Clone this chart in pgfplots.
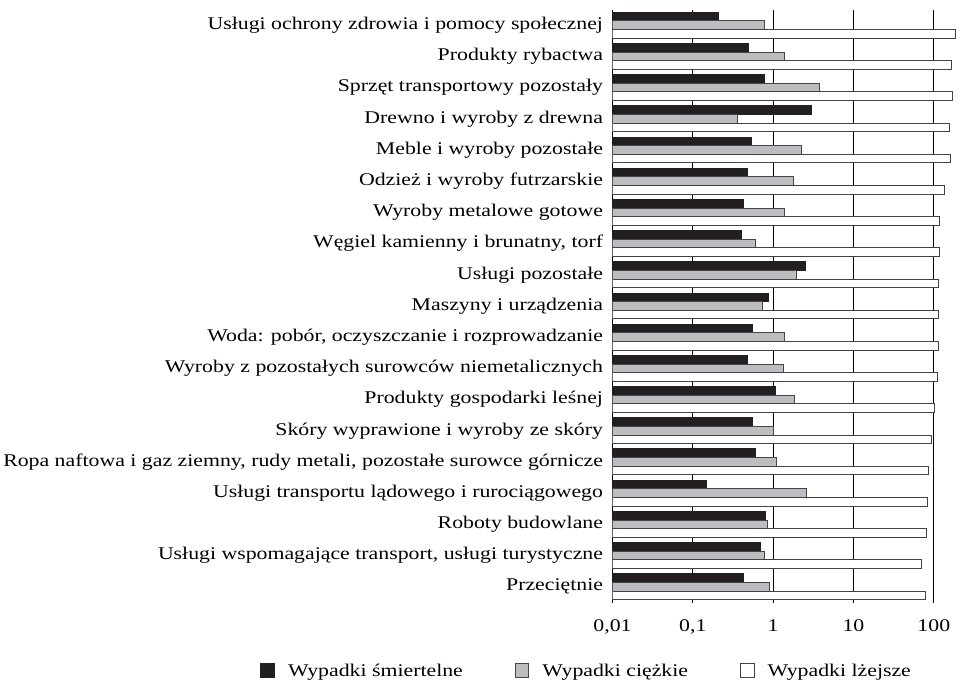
\documentclass[border=0pt]{standalone}
\usepackage{fontspec}
\setmainfont{Liberation Serif}[FakeStretch=1.22]
\usepackage{pgfplots}
\usepackage{pgfplotstable}
\pgfplotsset{compat=1.18}
\definecolor{barblack}{RGB}{35,31,32}
\definecolor{bargray}{RGB}{188,189,192}
\definecolor{edgegray}{RGB}{70,70,70}
\pgfplotstableread{
idx black gray white
0 0.21 0.79 185
1 0.49 1.37 165
2 0.77 3.73 170
3 2.97 0.36 158
4 0.54 2.24 161
5 0.48 1.77 134
6 0.43 1.37 117
7 0.40 0.60 117
8 2.56 1.96 114
9 0.87 0.73 114
10 0.55 1.38 114
11 0.48 1.35 110
12 1.07 1.82 102
13 0.56 1.00 93
14 0.60 1.11 87
15 0.15 2.60 84
16 0.80 0.84 80
17 0.70 0.79 70
18 0.43 0.89 79
}\datatable
\begin{document}
\begin{tikzpicture}
\begin{axis}[
  name=ax,
  scale only axis,
  width=348pt, height=597pt,
  xmode=log, xmin=0.01, xmax=200,
  log origin=infty,
  ymin=-0.49, ymax=18.51,
  y dir=reverse,
  xbar, bar width=8.7pt,
  axis lines=left,
  axis line style={-, black, line width=0.9pt},
  x axis line style={draw=none},
  major tick length=0pt,
  minor tick length=0pt,
  minor xtick={},
  xtick={0.01,0.1,1,10,100},
  xticklabels={0{,}01,0{,}1,1,10,100},
  xmajorgrids,
  major grid style={black, line width=0.9pt},
  ytick={0,...,18},
  yticklabels={
    Usługi ochrony zdrowia i pomocy społecznej,
    Produkty rybactwa,
    Sprzęt transportowy pozostały,
    Drewno i wyroby z drewna,
    Meble i wyroby pozostałe,
    Odzież i wyroby futrzarskie,
    Wyroby metalowe gotowe,
    {Węgiel kamienny i brunatny, torf},
    Usługi pozostałe,
    Maszyny i urządzenia,
    {Woda: pobór, oczyszczanie i rozprowadzanie},
    Wyroby z pozostałych surowców niemetalicznych,
    Produkty gospodarki leśnej,
    Skóry wyprawione i wyroby ze skóry,
    {Ropa naftowa i gaz ziemny, rudy metali, pozostałe surowce górnicze},
    Usługi transportu lądowego i rurociągowego,
    Roboty budowlane,
    {Usługi wspomagające transport, usługi turystyczne},
    Przeciętnie},
  ticklabel style={font=\fontsize{18}{21}\selectfont},
  yticklabel style={xshift=-6pt},
  xticklabel style={yshift=-14pt},
  legend columns=3,
  legend style={draw=none, fill=none, font=\fontsize{18}{21}\selectfont,
    at={(axis description cs:-0.075,-0.115)}, anchor=center,
    /tikz/every odd column/.append style={column sep=11pt},
    /tikz/every even column/.append style={column sep=50pt}},
  legend image code/.code={\draw[#1, line width=1pt] (0pt,-6.5pt) rectangle (14pt,7.5pt);},
]
\addplot[bar shift=8.7pt, fill=barblack, draw=barblack, line width=1pt] table[x=black, y=idx] {\datatable};
\addplot[bar shift=0pt, fill=bargray, draw=edgegray, line width=1pt] table[x=gray, y=idx] {\datatable};
\addplot[bar shift=-8.7pt, fill=white, draw=barblack!85, line width=1pt] table[x=white, y=idx] {\datatable};
\legend{Wypadki śmiertelne, Wypadki ciężkie, Wypadki lżejsze}
\end{axis}
\path ([xshift=-610pt,yshift=607pt]ax.south west) rectangle ([xshift=348pt,yshift=-78pt]ax.south west);
\end{tikzpicture}
\end{document}
